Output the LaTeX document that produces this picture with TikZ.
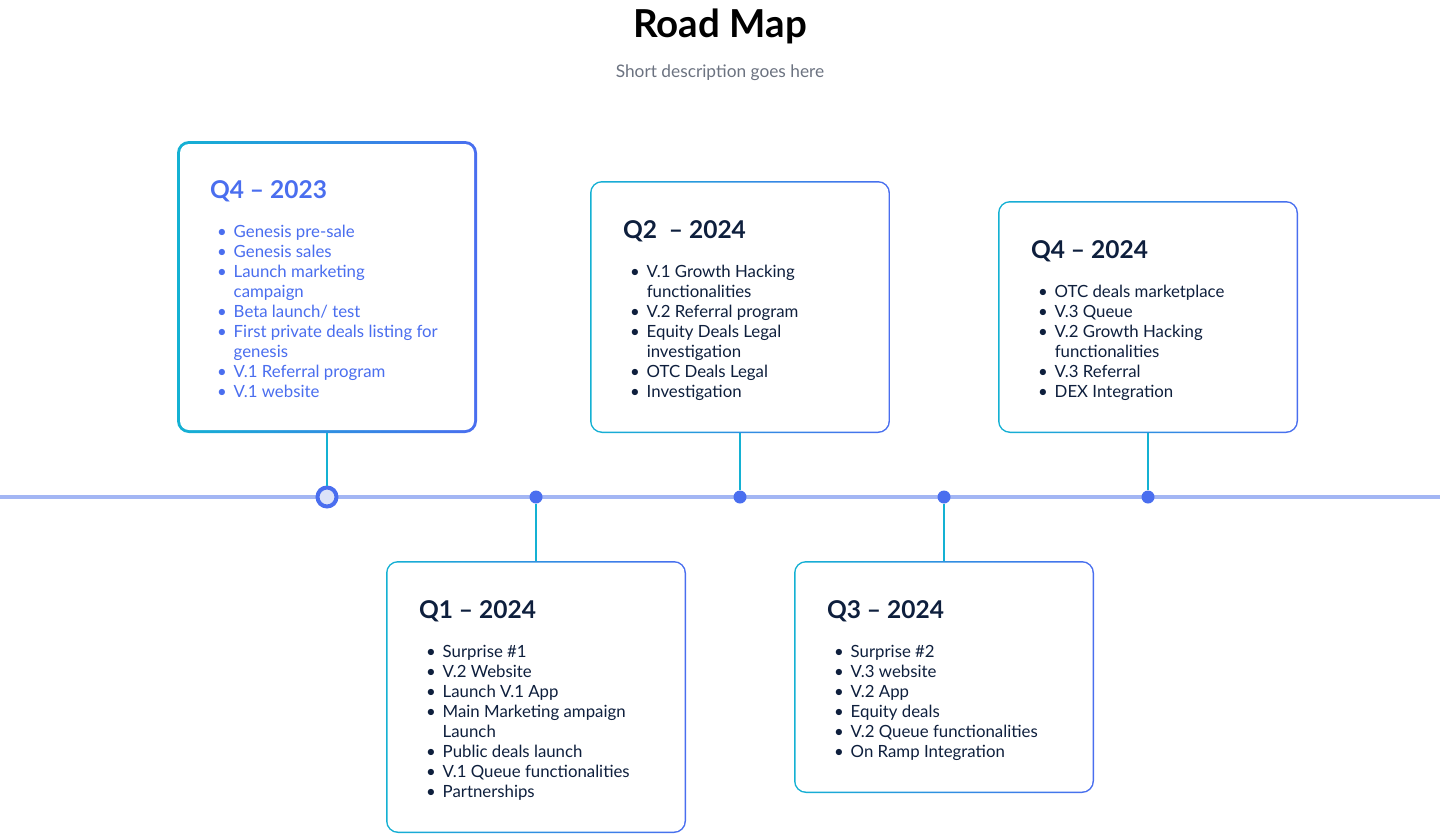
\documentclass[tikz,border=0pt]{standalone}
\usepackage{fontspec}
\setmainfont{Lato}
\usetikzlibrary{positioning, calc}
\definecolor{rmteal}{HTML}{14B1D3}
\definecolor{rmblue}{HTML}{4A6EEF}
\definecolor{rmline}{HTML}{A3B6F4}
\definecolor{rmnavy}{HTML}{0E1F3D}
\definecolor{rmgray}{HTML}{6B7280}
\definecolor{rmpale}{HTML}{DCE3F8}
\newcommand{\rmbul}{\textbullet}
\tikzset{
  card/.style 2 args={rectangle, rounded corners=12pt, minimum width=300pt, minimum height=#1, inner sep=0pt,
    path picture={
      \shade[left color=rmteal, right color=rmblue] (path picture bounding box.south west) rectangle (path picture bounding box.north east);
      \fill[white, rounded corners=12pt-#2] ($(path picture bounding box.south west)+(#2,#2)$) rectangle ($(path picture bounding box.north east)-(#2,#2)$);
    }},
  heading/.style={anchor=base west, inner sep=0pt, font=\fontsize{24.5}{28}\selectfont\bfseries, text=rmnavy},
  items/.style={anchor=north west, inner sep=0pt, font=\fontsize{16.8}{20}\selectfont, text=rmnavy},
  stem/.style={rmteal, line width=1.6pt},
  dot/.style={circle, fill=rmblue, minimum size=13pt, inner sep=0pt},
}
\begin{document}
\begin{tikzpicture}[x=1pt, y=-1pt]
  \useasboundingbox (0,0) rectangle (1440,835);
  % title
  \node (title) at (720,26) {\fontsize{38.5}{42}\selectfont\bfseries Road Map};
  \node (sub) [text=rmgray, font=\fontsize{17.3}{20}\selectfont] at (720,73) {Short description goes here};
  % timeline
  \coordinate (tl-start) at (0,497);
  \coordinate (tl-end) at (1440,497);
  \draw [rmline, line width=4pt] (tl-start) -- (tl-end);
  % cards
  \node (q4a) [card={292pt}{3pt}] at (327,287) {};
  \node (q2) [card={252pt}{1.5pt}] at (740,307) {};
  \node (q4b) [card={232pt}{1.5pt}] at (1148,317) {};
  \node (q1) [card={272pt}{1.5pt}] at (536,697) {};
  \node (q3) [card={232pt}{1.5pt}] at (944,677) {};
  % dots and stems
  \node (d1) [dot, draw=rmblue, fill=rmpale, line width=4pt, minimum size=19pt] at (327,497) {};
  \node (d2) [dot] at (536,497) {};
  \node (d3) [dot] at (740,497) {};
  \node (d4) [dot] at (944,497) {};
  \node (d5) [dot] at (1148,497) {};
  \draw [stem] (q4a.south) -- (d1.north);
  \draw [stem] (d2.south) -- (q1.north);
  \draw [stem] (q2.south) -- (d3.north);
  \draw [stem] (d4.south) -- (q3.north);
  \draw [stem] (q4b.south) -- (d5.north);
  % headings
  \node (h4a) [heading, text=rmblue, below right=58pt and 33pt of q4a.north west, anchor=base west] {Q4 -- 2023};
  \node (h2) [heading, below right=58pt and 33pt of q2.north west, anchor=base west] {Q2\ \ -- 2024};
  \node (h4b) [heading, below right=58pt and 33pt of q4b.north west, anchor=base west] {Q4 -- 2024};
  \node (h1) [heading, below right=58pt and 33pt of q1.north west, anchor=base west] {Q1 -- 2024};
  \node (h3) [heading, below right=58pt and 33pt of q3.north west, anchor=base west] {Q3 -- 2024};
  % lists
  \node (l4a) [items, text=rmblue, below right=82pt and 40pt of q4a.north west] {%
    \begin{tabular}{@{}c@{\hspace{7pt}}l@{}}
      \rmbul & Genesis pre-sale\\
      \rmbul & Genesis sales\\
      \rmbul & Launch marketing\\
             & campaign\\
      \rmbul & Beta launch/ test\\
      \rmbul & First private deals listing for\\
             & genesis\\
      \rmbul & V.1 Referral program\\
      \rmbul & V.1 website
    \end{tabular}};
  \node (l2) [items, below right=82pt and 40pt of q2.north west] {%
    \begin{tabular}{@{}c@{\hspace{7pt}}l@{}}
      \rmbul & V.1 Growth Hacking\\
             & functionalities\\
      \rmbul & V.2 Referral program\\
      \rmbul & Equity Deals Legal\\
             & investigation\\
      \rmbul & OTC Deals Legal\\
      \rmbul & Investigation
    \end{tabular}};
  \node (l4b) [items, below right=82pt and 40pt of q4b.north west] {%
    \begin{tabular}{@{}c@{\hspace{7pt}}l@{}}
      \rmbul & OTC deals marketplace\\
      \rmbul & V.3 Queue\\
      \rmbul & V.2 Growth Hacking\\
             & functionalities\\
      \rmbul & V.3 Referral\\
      \rmbul & DEX Integration
    \end{tabular}};
  \node (l1) [items, below right=82pt and 40pt of q1.north west] {%
    \begin{tabular}{@{}c@{\hspace{7pt}}l@{}}
      \rmbul & Surprise \#1\\
      \rmbul & V.2 Website\\
      \rmbul & Launch V.1 App\\
      \rmbul & Main Marketing ampaign\\
             & Launch\\
      \rmbul & Public deals launch\\
      \rmbul & V.1 Queue functionalities\\
      \rmbul & Partnerships
    \end{tabular}};
  \node (l3) [items, below right=82pt and 40pt of q3.north west] {%
    \begin{tabular}{@{}c@{\hspace{7pt}}l@{}}
      \rmbul & Surprise \#2\\
      \rmbul & V.3 website\\
      \rmbul & V.2 App\\
      \rmbul & Equity deals\\
      \rmbul & V.2 Queue functionalities\\
      \rmbul & On Ramp Integration
    \end{tabular}};
\end{tikzpicture}
\end{document}
